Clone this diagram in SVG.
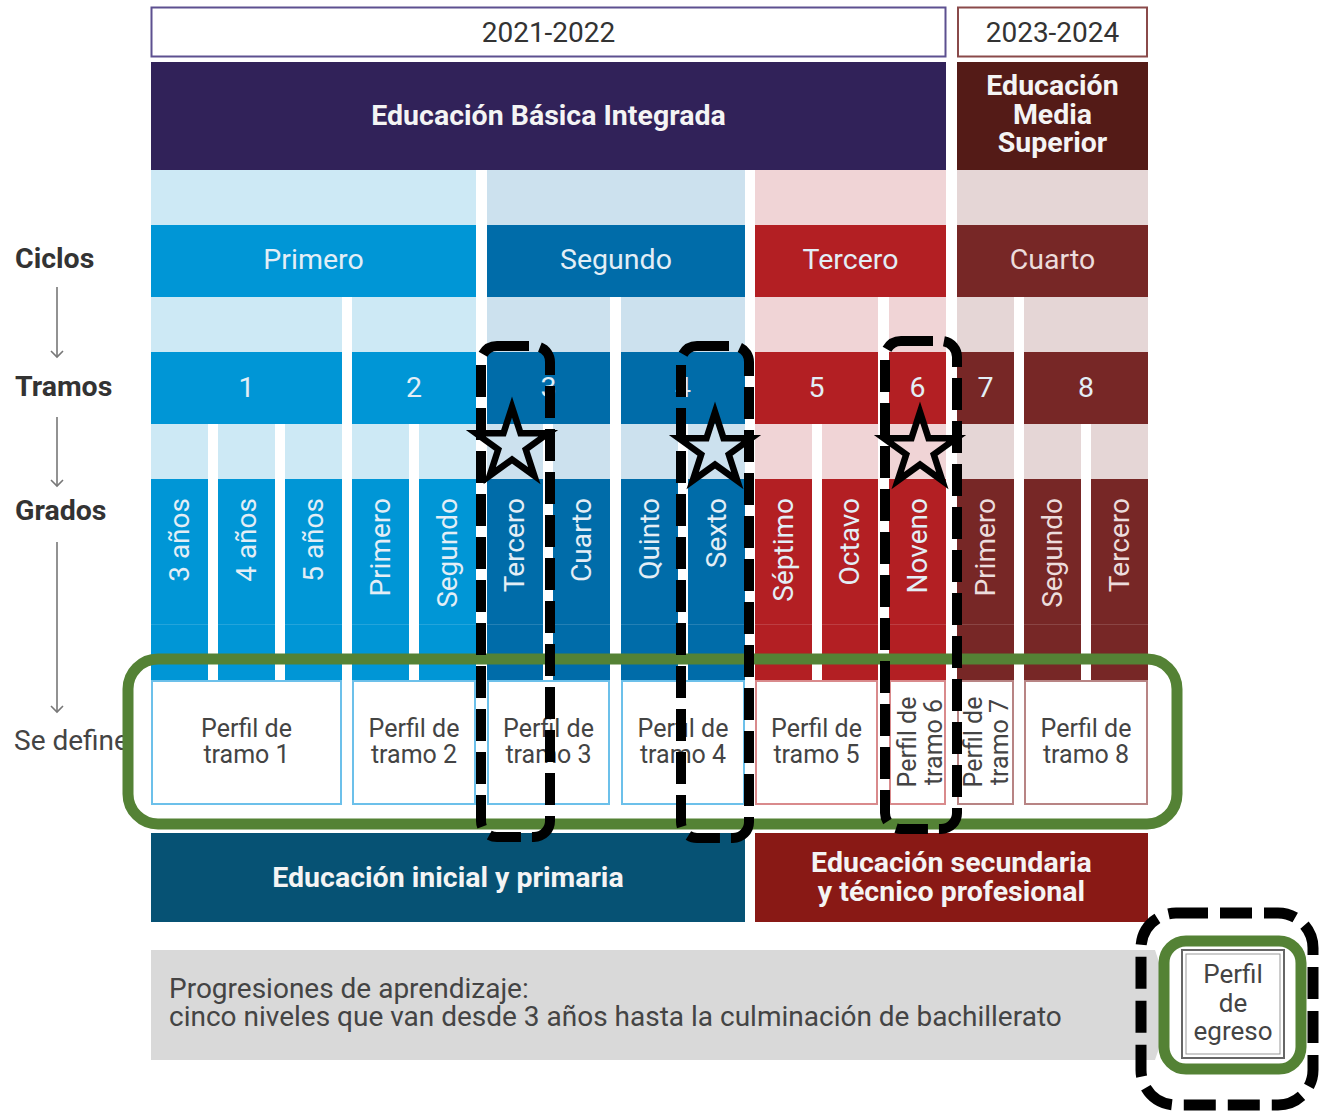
<svg xmlns="http://www.w3.org/2000/svg" width="1319" height="1111" viewBox="0 0 1319 1111">
<style>
text{font-family:Roboto,"Liberation Sans",sans-serif}
.yr{font-size:28px;fill:#333;text-anchor:middle}
.band{font-size:28.5px;font-weight:bold;fill:#f4f4f4;text-anchor:middle}
.lbl{font-size:28.5px;font-weight:bold;fill:#333}
.lt{font-size:28.5px;fill:#e3eef6;text-anchor:middle}
.gr{font-size:28px;fill:#e3eef6;text-anchor:end}
.pf{font-size:25px;fill:#444;text-anchor:middle}
.gray{font-size:28px;fill:#444}
.c1l{fill:#cde9f5}.c1d{fill:#0096d6}
.c2l{fill:#cce1ee}.c2d{fill:#006ca9}
.c3l{fill:#f0d4d6}.c3d{fill:#b31f23}
.c4l{fill:#e5d6d6}.c4d{fill:#772726}
.b1{fill:#fff;stroke:#6cc0ea;stroke-width:2}
.b3{fill:#fff;stroke:#d98a8c;stroke-width:2}
.b4{fill:#fff;stroke:#b88484;stroke-width:2}
.seam{stroke:#fff;stroke-opacity:.14;stroke-width:1}
.dash{fill:none;stroke:#000;stroke-width:10;stroke-dasharray:32 11}
.green{fill:none;stroke:#548235;stroke-width:11}
.star{fill:none;stroke:#000;stroke-width:6.5;stroke-linejoin:miter;stroke-miterlimit:10}
.arr{stroke:#777;stroke-width:1.6;fill:none}
</style>
<defs>
<marker id="chev" markerWidth="16" markerHeight="16" refX="8" refY="8" orient="auto" markerUnits="userSpaceOnUse">
<path d="M2,2 L8,8 L2,14" fill="none" stroke="#777" stroke-width="1.6"/>
</marker>
<path id="starShape" d="M0,-38 L8.52,-11.73 L36.14,-11.74 L13.79,4.48 L22.34,30.74 L0,14.5 L-22.34,30.74 L-13.79,4.48 L-36.14,-11.74 L-8.52,-11.73 Z"/>
</defs>
<rect width="1319" height="1111" fill="#fff"/>

<g id="years">
<rect x="151.5" y="7.5" width="794" height="49" fill="#fff" stroke="#5d5090" stroke-width="2"/>
<text class="yr" x="548.5" y="42">2021-2022</text>
<rect x="958" y="7.5" width="189" height="49" fill="#fff" stroke="#8a4a4a" stroke-width="2"/>
<text class="yr" x="1052.5" y="42">2023-2024</text>
</g>

<g id="ebi">
<rect x="151" y="62" width="795" height="108" fill="#312259"/>
<text class="band" x="548.5" y="125">Educación Básica Integrada</text>
</g>
<g id="ems">
<rect x="957" y="62" width="191" height="108" fill="#541b17"/>
<text class="band" x="1052.5" y="95">Educación</text>
<text class="band" x="1052.5" y="124">Media</text>
<text class="band" x="1052.5" y="152">Superior</text>
</g>

<g id="ciclos">
<rect class="c1l" x="151" y="170" width="325" height="55"/>
<rect class="c2l" x="487" y="170" width="258" height="55"/>
<rect class="c3l" x="755" y="170" width="191" height="55"/>
<rect class="c4l" x="957" y="170" width="191" height="55"/>
<g id="ciclo-primero"><rect class="c1d" x="151" y="225" width="325" height="72"/><text class="lt" x="313.5" y="269">Primero</text></g>
<g id="ciclo-segundo"><rect class="c2d" x="487" y="225" width="258" height="72"/><text class="lt" x="616" y="269">Segundo</text></g>
<g id="ciclo-tercero"><rect class="c3d" x="755" y="225" width="191" height="72"/><text class="lt" x="850.5" y="269">Tercero</text></g>
<g id="ciclo-cuarto"><rect class="c4d" x="957" y="225" width="191" height="72"/><text class="lt" x="1052.5" y="269" style="fill:#ecdcdc">Cuarto</text></g>
</g>

<g id="tramos">
<rect class="c1l" x="151" y="297" width="191" height="55"/>
<rect class="c1l" x="352" y="297" width="124" height="55"/>
<rect class="c2l" x="487" y="297" width="123" height="55"/>
<rect class="c2l" x="621" y="297" width="124" height="55"/>
<rect class="c3l" x="755" y="297" width="123" height="55"/>
<rect class="c3l" x="889" y="297" width="57" height="55"/>
<rect class="c4l" x="957" y="297" width="57" height="55"/>
<rect class="c4l" x="1024" y="297" width="124" height="55"/>
<g id="tramo-1"><rect class="c1d" x="151" y="352" width="191" height="72"/><text class="lt" x="246.5" y="397">1</text></g>
<g id="tramo-2"><rect class="c1d" x="352" y="352" width="124" height="72"/><text class="lt" x="414" y="397">2</text></g>
<g id="tramo-3"><rect class="c2d" x="487" y="352" width="123" height="72"/><text class="lt" x="548.5" y="397">3</text></g>
<g id="tramo-4"><rect class="c2d" x="621" y="352" width="124" height="72"/><text class="lt" x="683" y="397">4</text></g>
<g id="tramo-5"><rect class="c3d" x="755" y="352" width="123" height="72"/><text class="lt" x="816.5" y="397">5</text></g>
<g id="tramo-6"><rect class="c3d" x="889" y="352" width="57" height="72"/><text class="lt" x="917.5" y="397">6</text></g>
<g id="tramo-7"><rect class="c4d" x="957" y="352" width="57" height="72"/><text class="lt" x="985.5" y="397">7</text></g>
<g id="tramo-8"><rect class="c4d" x="1024" y="352" width="124" height="72"/><text class="lt" x="1086" y="397">8</text></g>
</g>

<g id="grados">
<g id="g-3anos"><rect class="c1l" x="151" y="424" width="57" height="55"/><rect class="c1d" x="151" y="479" width="57" height="201"/><text class="gr" transform="translate(189,498) rotate(-90)">3 años</text></g>
<g id="g-4anos"><rect class="c1l" x="218" y="424" width="57" height="55"/><rect class="c1d" x="218" y="479" width="57" height="201"/><text class="gr" transform="translate(256,498) rotate(-90)">4 años</text></g>
<g id="g-5anos"><rect class="c1l" x="285" y="424" width="57" height="55"/><rect class="c1d" x="285" y="479" width="57" height="201"/><text class="gr" transform="translate(323,498) rotate(-90)">5 años</text></g>
<g id="g-primero"><rect class="c1l" x="352" y="424" width="57" height="55"/><rect class="c1d" x="352" y="479" width="57" height="201"/><text class="gr" transform="translate(390,498) rotate(-90)">Primero</text></g>
<g id="g-segundo"><rect class="c1l" x="419" y="424" width="57" height="55"/><rect class="c1d" x="419" y="479" width="57" height="201"/><text class="gr" transform="translate(457,498) rotate(-90)">Segundo</text></g>
<g id="g-tercero"><rect class="c2l" x="487" y="424" width="56" height="55"/><rect class="c2d" x="487" y="479" width="56" height="201"/><text class="gr" transform="translate(524,498) rotate(-90)">Tercero</text></g>
<g id="g-cuarto"><rect class="c2l" x="553" y="424" width="57" height="55"/><rect class="c2d" x="553" y="479" width="57" height="201"/><text class="gr" transform="translate(591,498) rotate(-90)">Cuarto</text></g>
<g id="g-quinto"><rect class="c2l" x="621" y="424" width="57" height="55"/><rect class="c2d" x="621" y="479" width="57" height="201"/><text class="gr" transform="translate(659,498) rotate(-90)">Quinto</text></g>
<g id="g-sexto"><rect class="c2l" x="688" y="424" width="57" height="55"/><rect class="c2d" x="688" y="479" width="57" height="201"/><text class="gr" transform="translate(726,498) rotate(-90)">Sexto</text></g>
<g id="g-septimo"><rect class="c3l" x="755" y="424" width="57" height="55"/><rect class="c3d" x="755" y="479" width="57" height="201"/><text class="gr" transform="translate(793,498) rotate(-90)">Séptimo</text></g>
<g id="g-octavo"><rect class="c3l" x="822" y="424" width="56" height="55"/><rect class="c3d" x="822" y="479" width="56" height="201"/><text class="gr" transform="translate(859,498) rotate(-90)">Octavo</text></g>
<g id="g-noveno"><rect class="c3l" x="889" y="424" width="57" height="55"/><rect class="c3d" x="889" y="479" width="57" height="201"/><text class="gr" transform="translate(927,498) rotate(-90)">Noveno</text></g>
<g id="g-primero-ms"><rect class="c4l" x="957" y="424" width="57" height="55"/><rect class="c4d" x="957" y="479" width="57" height="201"/><text class="gr" transform="translate(995,498) rotate(-90)" style="fill:#ecdcdc">Primero</text></g>
<g id="g-segundo-ms"><rect class="c4l" x="1024" y="424" width="57" height="55"/><rect class="c4d" x="1024" y="479" width="57" height="201"/><text class="gr" transform="translate(1062,498) rotate(-90)" style="fill:#ecdcdc">Segundo</text></g>
<g id="g-tercero-ms"><rect class="c4l" x="1091" y="424" width="57" height="55"/><rect class="c4d" x="1091" y="479" width="57" height="201"/><text class="gr" transform="translate(1129,498) rotate(-90)" style="fill:#ecdcdc">Tercero</text></g>
<path class="seam" d="M151,624.5H1148"/>
</g>

<g id="labels">
<text class="lbl" x="15" y="268">Ciclos</text>
<text class="lbl" x="15" y="396">Tramos</text>
<text class="lbl" x="15" y="520">Grados</text>
<text class="gray" x="14" y="750">Se define</text>
</g>

<g id="connectors">
<line class="arr" x1="57" y1="287" x2="57" y2="357" marker-end="url(#chev)"/>
<line class="arr" x1="57" y1="417" x2="57" y2="486" marker-end="url(#chev)"/>
<line class="arr" x1="57" y1="542" x2="57" y2="712" marker-end="url(#chev)"/>
</g>

<g id="perfiles">
<g id="perfil-1"><rect class="b1" x="152" y="681" width="189" height="123"/><text class="pf" x="246.5" y="737">Perfil de</text><text class="pf" x="246.5" y="763">tramo 1</text></g>
<g id="perfil-2"><rect class="b1" x="353" y="681" width="122" height="123"/><text class="pf" x="414" y="737">Perfil de</text><text class="pf" x="414" y="763">tramo 2</text></g>
<g id="perfil-3"><rect class="b1" x="488" y="681" width="121" height="123"/><text class="pf" x="548.5" y="737">Perfil de</text><text class="pf" x="548.5" y="763">tramo 3</text></g>
<g id="perfil-4"><rect class="b1" x="622" y="681" width="122" height="123"/><text class="pf" x="683" y="737">Perfil de</text><text class="pf" x="683" y="763">tramo 4</text></g>
<g id="perfil-5"><rect class="b3" x="756" y="681" width="121" height="123"/><text class="pf" x="816.5" y="737">Perfil de</text><text class="pf" x="816.5" y="763">tramo 5</text></g>
<g id="perfil-6"><rect class="b3" x="890" y="681" width="55" height="123"/><text class="pf" transform="translate(916,742) rotate(-90)">Perfil de</text><text class="pf" transform="translate(942,742) rotate(-90)">tramo 6</text></g>
<g id="perfil-7"><rect class="b4" x="958" y="681" width="55" height="123"/><text class="pf" transform="translate(982,742) rotate(-90)">Perfil de</text><text class="pf" transform="translate(1008,742) rotate(-90)">tramo 7</text></g>
<g id="perfil-8"><rect class="b4" x="1025" y="681" width="122" height="123"/><text class="pf" x="1086" y="737">Perfil de</text><text class="pf" x="1086" y="763">tramo 8</text></g>
</g>

<g id="eip">
<rect x="151" y="833" width="594" height="89" fill="#065274"/>
<text class="band" x="448" y="887">Educación inicial y primaria</text>
</g>
<g id="estp">
<rect x="755" y="833" width="393" height="89" fill="#891915"/>
<text class="band" x="951.5" y="872">Educación secundaria</text>
<text class="band" x="951.5" y="901">y técnico profesional</text>
</g>

<g id="progresiones">
<path d="M151,950H1155Q1176,1005 1155,1060H151Z" fill="#d9d9d9"/>
<text class="gray" x="169" y="998">Progresiones de aprendizaje:</text>
<text class="gray" x="169" y="1026">cinco niveles que van desde 3 años hasta la culminación de bachillerato</text>
</g>

<g id="perfil-egreso">
<rect x="1182" y="950" width="102" height="108" fill="#fff" stroke="#666" stroke-width="2"/>
<rect x="1186" y="954" width="94" height="100" fill="none" stroke="#999" stroke-width="1"/>
<text class="pf" style="font-size:26px" x="1233" y="983">Perfil</text>
<text class="pf" style="font-size:26px" x="1233" y="1012">de</text>
<text class="pf" style="font-size:26px" x="1233" y="1040">egreso</text>
</g>

<g id="highlights">
<rect class="green" x="128" y="659" width="1049" height="165" rx="30"/>
<rect class="green" x="1164" y="941" width="137" height="128" rx="22"/>
<rect class="dash" x="481" y="346" width="69" height="491" rx="16"/>
<rect class="dash" x="681" y="346" width="68" height="492" rx="16"/>
<rect class="dash" x="885" y="341" width="72" height="488" rx="16"/>
<rect class="dash" style="stroke-width:11;stroke-dasharray:32 12" x="1141" y="913" width="172" height="192" rx="35"/>
<use href="#starShape" class="star" x="512" y="445"/>
<use href="#starShape" class="star" x="715" y="450"/>
<use href="#starShape" class="star" x="920" y="450"/>
</g>
</svg>
